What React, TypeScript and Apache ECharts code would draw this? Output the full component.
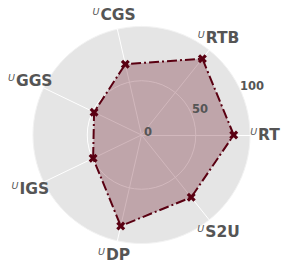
import React, { useEffect, useRef } from "react";
import * as echarts from "echarts";

const categories = ["RT", "RTB", "CGS", "GGS", "IGS", "DP", "S2U"];
const seriesValues = [85, 90, 67, 48.5, 49.5, 86, 73.5];
const axisMax = 100;
const tickLabels = [0, 50, 100];

export default function App() {
  const ref = useRef<HTMLDivElement>(null);
  useEffect(() => {
    const chart = echarts.init(ref.current!, null, { renderer: "svg" });
    const xPath =
      "path://M2.5,0 L5,2.5 L7.5,0 L10,2.5 L7.5,5 L10,7.5 L7.5,10 L5,7.5 L2.5,10 L0,7.5 L2.5,5 L0,2.5 Z";
    chart.setOption({
      animation: false,
      backgroundColor: "#ffffff",
      radar: {
        center: [141.5, 135],
        radius: 108.5,
        startAngle: 0,
        shape: "circle",
        splitNumber: 2,
        indicator: categories.map((name) => ({ name, min: 0, max: axisMax })),
        nameGap: 15,
        axisName: {
          formatter: (name: string) => `{u|U}{b|${name}}`,
          align: "center",
          verticalAlign: "middle",
          rich: {
            u: {
              fontFamily: "DejaVu Sans",
              fontStyle: "italic",
              fontSize: 9.5,
              color: "#555555",
              padding: [0, 1, 7, 0],
            },
            b: {
              fontFamily: "DejaVu Sans",
              fontWeight: "bold",
              fontSize: 15.5,
              color: "#555555",
            },
          },
        },
        axisLine: { lineStyle: { color: "#ffffff", width: 1 } },
        splitLine: { lineStyle: { color: ["#f2f2f2", "#ffffff"], width: 1 } },
        splitArea: { areaStyle: { color: ["#e5e5e5", "#e5e5e5"] } },
        axisTick: { show: false },
        axisLabel: { show: false },
      },
      polar: {
        center: [141.5, 135],
        radius: [7, 121],
      },
      angleAxis: {
        type: "value",
        startAngle: 24,
        show: false,
      },
      radiusAxis: {
        type: "value",
        min: 0,
        max: 100,
        interval: 50,
        z: 10,
        axisLine: { show: false },
        axisTick: { show: false },
        splitLine: { show: false },
        axisLabel: {
          margin: 0,
          align: "center",
          verticalAlign: "middle",
          fontFamily: "DejaVu Sans",
          fontWeight: "bold",
          fontSize: 11.5,
          color: "#555555",
          formatter: (v: number) => (tickLabels.includes(v) ? String(v) : ""),
        },
      },
      series: [
        {
          type: "radar",
          z: 3,
          symbol: xPath,
          symbolSize: 9,
          data: [
            {
              value: seriesValues,
              lineStyle: { color: "#5a0012", width: 2, type: [10, 3, 2, 3] },
              itemStyle: { color: "#5a0012" },
              areaStyle: { color: "#5c0011", opacity: 0.28 },
            },
          ],
        },
      ],
    });
    return () => chart.dispose();
  }, []);
  return (
    <div
      ref={ref}
      style={{ position: "fixed", left: 0, top: 0, width: 287, height: 270 }}
    />
  );
}
